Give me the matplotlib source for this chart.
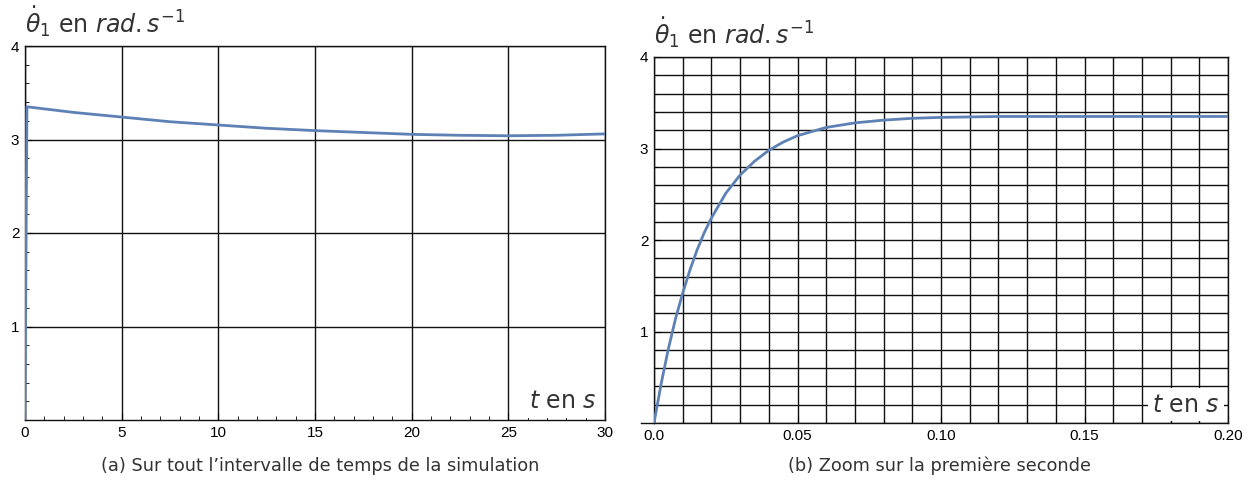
import numpy as np
import matplotlib
matplotlib.use("Agg")
import matplotlib.pyplot as plt
from matplotlib.ticker import MultipleLocator

# (a) whole simulation
t_a = [0, 0.1, 2.5, 5, 7.5, 10, 12.5, 15, 17.5, 20, 22.5, 25, 27.5, 30]
w_a = [0, 3.35, 3.29, 3.24, 3.19, 3.155, 3.12, 3.095, 3.075, 3.055, 3.045, 3.04, 3.045, 3.06]

# (b) zoom on the start
t_b = [0, 0.0025, 0.005, 0.0075, 0.01, 0.0125, 0.015, 0.0175, 0.02, 0.025, 0.03,
       0.035, 0.04, 0.045, 0.05, 0.06, 0.07, 0.08, 0.09, 0.10, 0.12, 0.14, 0.16, 0.18, 0.20]
w_b = [0, 0.43, 0.81, 1.14, 1.42, 1.67, 1.89, 2.08, 2.24, 2.51, 2.71,
       2.86, 2.98, 3.07, 3.14, 3.23, 3.28, 3.31, 3.33, 3.34, 3.35, 3.35, 3.35, 3.35, 3.35]

xticks_a = [0, 5, 10, 15, 20, 25, 30]
yticks_a = [1, 2, 3, 4]
xticks_b = [0.0, 0.05, 0.10, 0.15, 0.20]
xlabels_b = ["0.0", "0.05", "0.10", "0.15", "0.20"]
yticks_b = [1, 2, 3, 4]

blue = "#5E81B5"
txt = "#333333"
plt.rcParams["font.family"] = ["Liberation Sans", "DejaVu Sans"]

fig = plt.figure(figsize=(12.53, 4.82), dpi=100)
ax1 = fig.add_axes([25/1253, 62/482, 580/1253, 374/482])
ax2 = fig.add_axes([654/1253, 59/482, 574/1253, 366/482])

# panel a
ax1.plot(t_a, w_a, color=blue, lw=2, zorder=3)
ax1.set_xlim(0, 30)
ax1.set_ylim(0, 4)
ax1.set_xticks(xticks_a)
ax1.set_yticks(yticks_a)
ax1.xaxis.set_minor_locator(MultipleLocator(1))
ax1.yaxis.set_minor_locator(MultipleLocator(0.2))
ax1.grid(True, which="major", color="#111111", lw=1.0)

# panel b
ax2.plot(t_b, w_b, color=blue, lw=2, zorder=3)
ax2.set_xlim(0, 0.2)
ax2.set_ylim(0, 4)
ax2.set_xticks(xticks_b)
ax2.set_xticklabels(xlabels_b)
ax2.set_yticks(yticks_b)
ax2.xaxis.set_minor_locator(MultipleLocator(0.01))
ax2.yaxis.set_minor_locator(MultipleLocator(0.2))
ax2.grid(True, which="both", color="#111111", lw=1.0)
# x axis line runs a little past the y axis
ax2.plot([-0.022, 0], [0, 0], transform=ax2.transAxes, clip_on=False,
         color="#111111", lw=1.0)

for ax in (ax1, ax2):
    ax.set_axisbelow(True)
    for s in ax.spines.values():
        s.set_color("#111111")
        s.set_linewidth(1.0)
    ax.tick_params(which="major", direction="in", length=5, labelsize=11, pad=4)
    ax.tick_params(which="minor", direction="in", length=3)
    ax.text(0.0, 1.02, r"$\dot{\theta}_1$ en $rad.s^{-1}$", transform=ax.transAxes,
            fontsize=17, color=txt, ha="left", va="bottom", family="DejaVu Sans")
    ax.text(0.985, 0.05, r"$t$ en $s$", transform=ax.transAxes, fontsize=17,
            color=txt, ha="right", va="center", family="DejaVu Sans", zorder=4,
            bbox=dict(facecolor="white", edgecolor="none", pad=3))

fig.text(320/1253, 1 - 466/482, "(a) Sur tout l\u2019intervalle de temps de la simulation",
         ha="center", va="center", fontsize=12.8, color=txt, family="DejaVu Sans")
fig.text(940/1253, 1 - 466/482, "(b) Zoom sur la premi\u00e8re seconde",
         ha="center", va="center", fontsize=12.8, color=txt, family="DejaVu Sans")

fig.savefig("out.png", dpi=100)
